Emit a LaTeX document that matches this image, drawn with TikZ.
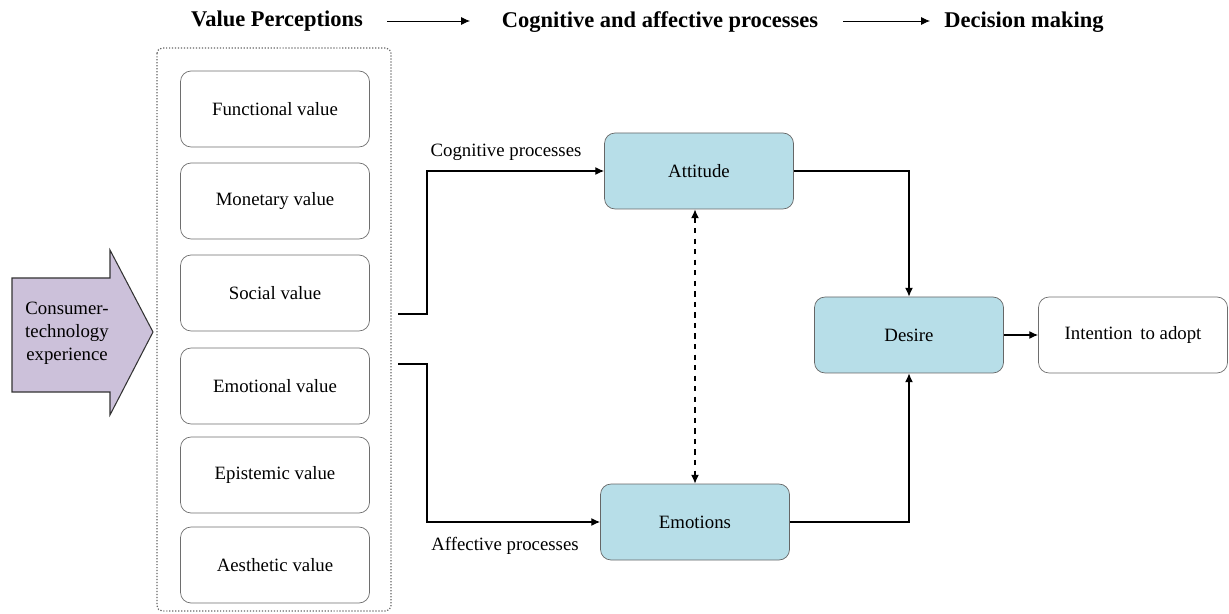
\documentclass[tikz,border=0pt]{standalone}
\usepackage{fontspec}
\setmainfont{Liberation Serif}
\usetikzlibrary{arrows.meta}

\definecolor{boxline}{RGB}{110,110,110}
\definecolor{lightblue}{RGB}{183,222,232}
\definecolor{lilac}{RGB}{204,193,218}

\tikzset{
    valbox/.style={draw=boxline, rounded corners=6pt, minimum width=189*0.02cm,
        minimum height=76*0.02cm, fill=white, align=center},
    procbox/.style={valbox, fill=lightblue, draw=black!60},
    flow/.style={-{Latex[length=5pt,width=4.5pt]}, line width=0.7pt},
    head/.style={font=\fontsize{12.8}{15}\selectfont\bfseries, inner sep=0pt}
}

\begin{document}
\begin{tikzpicture}[x=0.02cm, y=-0.02cm, font=\fontsize{10.7}{13}\selectfont]
        \useasboundingbox (0,0) rectangle (1229,614);

        % Intestazione
        \node[head] (hvp) at (277,21) {Value Perceptions};
        \node[head] (hcap) at (660,22) {Cognitive and affective processes};
        \node[head] (hdm) at (1024,22) {Decision making};
        \coordinate (a1) at (387,21);
        \coordinate (a2) at (470,21);
        \coordinate (a3) at (843,21);
        \coordinate (a4) at (930,21);
        \draw[flow, line width=0.5pt] (a1) -- (a2);
        \draw[flow, line width=0.5pt] (a3) -- (a4);

        % Esperienza
        \filldraw[fill=lilac, draw=black!80, line width=0.6pt] (12,278) -- (110,278) -- (110,250)
            -- (153,332) -- (110,415) -- (110,392) -- (12,392) -- cycle;
        \node[align=center, inner sep=0pt] (exp) at (67,333) {Consumer-\\technology\\experience};

        % Valori
        \draw[densely dotted, draw=black!60, line width=0.7pt, rounded corners=3pt] (157,48) rectangle (391,611);
        \node[valbox] (fun) at (275,109) {Functional value};
        \node[valbox] (mon) at (275,201) {Monetary value};
        \node[valbox] (soc) at (275,293) {Social value};
        \node[valbox] (emv) at (275,386) {Emotional value};
        \node[valbox] (epi) at (275,475) {Epistemic value};
        \node[valbox] (aes) at (275,565) {Aesthetic value};

        % Processi
        \node[procbox] (att) at (699,171) {Attitude};
        \node[procbox] (emo) at (695,522) {Emotions};
        \node[procbox] (des) at (909,335) {Desire};
        \node[valbox, draw=boxline] (int) at (1133,335) {Intention\, to adopt};

        \coordinate (cog) at (398,314);
        \coordinate (aff) at (398,364);
        \draw[flow] (cog) -- (427,314) |- (att.west);
        \draw[flow] (aff) -- (427,364) |- (emo.west);
        \node[inner sep=0pt] (lcog) at (506,152) {Cognitive processes};
        \node[inner sep=0pt] (laff) at (505,546) {Affective processes};

        \draw[{Latex[length=5pt,width=4.5pt]}-{Latex[length=5pt,width=4.5pt]}, dashed, line width=0.7pt]
            (att.south -| emo.north) -- (emo.north);
        \draw[flow] (att.east) -| (des.north);
        \draw[flow] (emo.east) -| (des.south);
        \draw[flow] (des.east) -- (int.west);
    \end{tikzpicture}
\end{document}
